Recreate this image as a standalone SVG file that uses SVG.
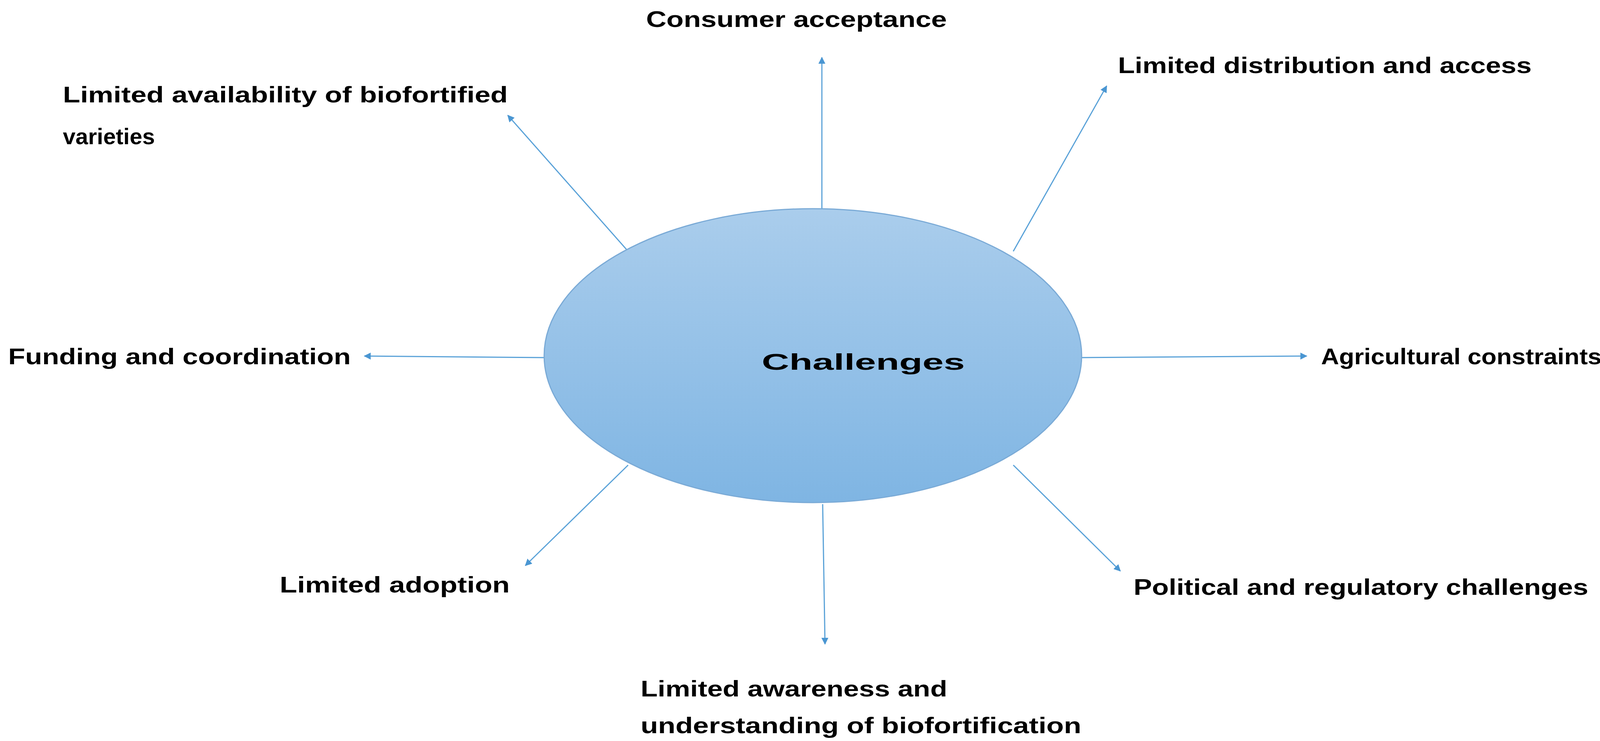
<svg xmlns="http://www.w3.org/2000/svg" width="4159" height="1896" viewBox="0 0 4159 1896">
<style>
.t{font-family:"Liberation Sans",Arial,sans-serif;font-weight:bold;font-size:58px;fill:#000;dominant-baseline:central}
.c{stroke:#5aa2d8;stroke-width:3;fill:none;marker-end:url(#a)}
</style>
<defs>
<linearGradient id="g" x1="0" y1="0" x2="0" y2="1"><stop offset="0" stop-color="#aacdec"/><stop offset="1" stop-color="#7fb5e3"/></linearGradient>
<marker id="a" viewBox="0 0 10 10" refX="9" refY="5" markerWidth="6" markerHeight="6" orient="auto"><path d="M0,0L10,5L0,10z" fill="#4a96d2"/></marker>
</defs>
<rect width="4159" height="1896" fill="#fff"/>
<g id="connectors">
<line class="c" x1="2104" y1="536" x2="2104" y2="147"/>
<line class="c" x1="2594" y1="643" x2="2833" y2="220"/>
<line class="c" x1="1608" y1="643" x2="1300" y2="295"/>
<line class="c" x1="1394" y1="915" x2="933" y2="911"/>
<line class="c" x1="2769" y1="915" x2="3345" y2="911"/>
<line class="c" x1="1608" y1="1190" x2="1345" y2="1447"/>
<line class="c" x1="2594" y1="1190" x2="2868" y2="1461"/>
<line class="c" x1="2106" y1="1290" x2="2112" y2="1648"/>
</g>
<g id="center">
<ellipse cx="2081" cy="910" rx="688" ry="376" fill="url(#g)" stroke="#7aaad6" stroke-width="3"/>
<text class="t" x="2210" y="925" text-anchor="middle" font-size="150" textLength="520" lengthAdjust="spacingAndGlyphs">Challenges</text>
</g>
<g id="n1"><text class="t" x="1654" y="48" textLength="770" lengthAdjust="spacingAndGlyphs">Consumer acceptance</text></g>
<g id="n2"><text class="t" x="2862" y="166" textLength="1059" lengthAdjust="spacingAndGlyphs">Limited distribution and access</text></g>
<g id="n3"><text class="t" x="161" y="241" textLength="1139" lengthAdjust="spacingAndGlyphs">Limited availability of biofortified</text><text class="t" x="161" y="348">varieties</text></g>
<g id="n4"><text class="t" x="21" y="911" textLength="877" lengthAdjust="spacingAndGlyphs">Funding and coordination</text></g>
<g id="n5"><text class="t" x="3382" y="911" textLength="718" lengthAdjust="spacingAndGlyphs">Agricultural constraints</text></g>
<g id="n6"><text class="t" x="716" y="1495" textLength="589" lengthAdjust="spacingAndGlyphs">Limited adoption</text></g>
<g id="n7"><text class="t" x="2902" y="1501" textLength="1164" lengthAdjust="spacingAndGlyphs">Political and regulatory challenges</text></g>
<g id="n8"><text class="t" x="1640" y="1761" textLength="785" lengthAdjust="spacingAndGlyphs">Limited awareness and</text><text class="t" x="1640" y="1855" textLength="1128" lengthAdjust="spacingAndGlyphs">understanding of biofortification</text></g>
</svg>
